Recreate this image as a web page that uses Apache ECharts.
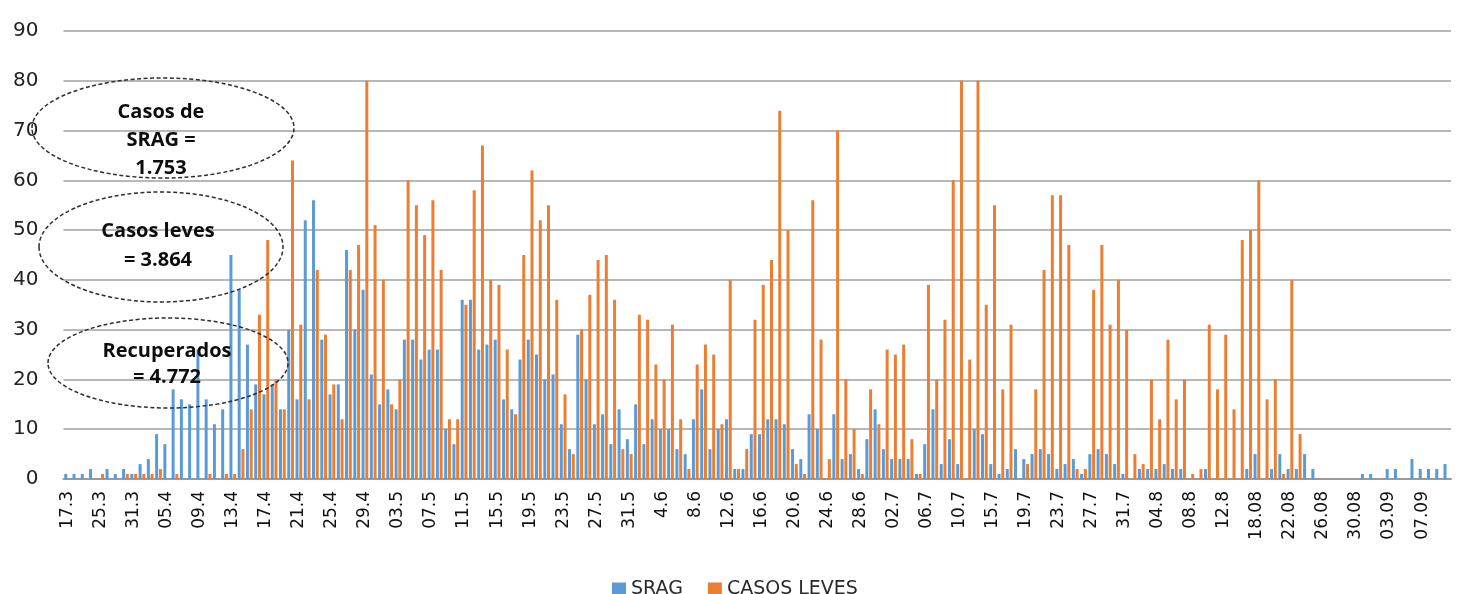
<!DOCTYPE html>
<html>
<head>
<meta charset="utf-8">
<title>SRAG x Casos leves</title>
<script src="https://cdn.jsdelivr.net/npm/echarts@6.0.0/dist/echarts.min.js"></script>
<style>
  html, body { margin: 0; padding: 0; background: #fff; }
  #chart { width: 1470px; height: 594px; }
</style>
</head>
<body>
<div id="chart"></div>
<script>
// one label every 4 days (the dates in between are not printed)
const tickLabels = ['17.3', '25.3', '31.3', '05.4', '09.4', '13.4', '17.4', '21.4', '25.4', '29.4',
  '03.5', '07.5', '11.5', '15.5', '19.5', '23.5', '27.5', '31.5', '4.6', '8.6', '12.6', '16.6',
  '20.6', '24.6', '28.6', '02.7', '06.7', '10.7', '15.7', '19.7', '23.7', '27.7', '31.7', '04.8',
  '08.8', '12.8', '18.08', '22.08', '26.08', '30.08', '03.09', '07.09']

const srag = [
  1, 1, 1, 2, 0, 2, 1, 2, 1, 3, 4, 9, 7, 18, 16, 15, 26, 16, 11, 14, 45, 38, 27, 19,
  17, 19, 14, 30, 16, 52, 56, 28, 17, 19, 46, 30, 38, 21, 15, 18, 14, 28, 28, 24, 26, 26, 10, 7,
  36, 36, 26, 27, 28, 16, 14, 24, 28, 25, 20, 21, 11, 6, 29, 20, 11, 13, 7, 14, 8, 15, 7, 12,
  10, 10, 6, 5, 12, 18, 6, 10, 12, 2, 2, 9, 9, 12, 12, 11, 6, 4, 13, 10, 0, 13, 4, 5,
  2, 8, 14, 6, 4, 4, 4, 1, 7, 14, 3, 8, 3, 0, 10, 9, 3, 1, 2, 6, 4, 5, 6, 5,
  2, 3, 4, 1, 5, 6, 5, 3, 1, 0, 2, 2, 2, 3, 2, 2, 0, 0, 2, 0, 0, 0, 0, 2,
  5, 0, 2, 5, 2, 2, 5, 2, 0, 0, 0, 0, 0, 1, 1, 0, 2, 2, 0, 4, 2, 2, 2, 3
]

const casosLeves = [
  0, 0, 0, 0, 1, 0, 0, 1, 1, 1, 1, 2, 0, 1, 0, 0, 0, 1, 0, 1, 1, 6, 14, 33,
  48, 20, 14, 64, 31, 16, 42, 29, 19, 12, 42, 47, 80, 51, 40, 15, 20, 60, 55, 49, 56, 42, 12, 12,
  35, 58, 67, 40, 39, 26, 13, 45, 62, 52, 55, 36, 17, 5, 30, 37, 44, 45, 36, 6, 5, 33, 32, 23,
  20, 31, 12, 2, 23, 27, 25, 11, 40, 2, 6, 32, 39, 44, 74, 50, 3, 1, 56, 28, 4, 70, 20, 10,
  1, 18, 11, 26, 25, 27, 8, 1, 39, 20, 32, 60, 80, 24, 80, 35, 55, 18, 31, 0, 3, 18, 42, 57,
  57, 47, 2, 2, 38, 47, 31, 40, 30, 5, 3, 20, 12, 28, 16, 20, 1, 2, 31, 18, 29, 14, 48, 50,
  60, 16, 20, 1, 40, 9, 0, 0, 0, 0, 0, 0, 0, 0, 0, 0, 0, 0, 0, 0, 0, 0, 0, 0
]

// totals written in the dashed ellipses
const notes = [
  { text: 'Casos de\nSRAG =\n1.753', cx: 163, cy: 128, rx: 131, ry: 50, ty: 140, tx: 161, lh: 28 },
  { text: 'Casos leves\n= 3.864', cx: 161, cy: 247, rx: 122, ry: 55, ty: 246, tx: 158, lh: 29 },
  { text: 'Recuperados\n= 4.772', cx: 168, cy: 363, rx: 120, ry: 45, ty: 364, tx: 167, lh: 26 }
]

const categories = tickLabels.flatMap(l => [l, '', '', ''])

const chart = echarts.init(document.getElementById('chart'), null, { renderer: 'canvas' })

const graphics = []
notes.forEach(n => {
  graphics.push({
    type: 'ellipse',
    z: 100,
    shape: { cx: n.cx, cy: n.cy, rx: n.rx, ry: n.ry },
    style: { fill: null, stroke: '#2e2e2e', lineWidth: 1.5, lineDash: [4, 2.5] }
  })
  graphics.push({
    type: 'text',
    z: 101,
    style: {
      text: n.text,
      x: n.tx,
      y: n.ty,
      font: 'bold 20px "Open Sans"',
      fill: '#0d0d0d',
      textAlign: 'center',
      textVerticalAlign: 'middle',
      lineHeight: n.lh
    }
  })
})

chart.setOption({
  animation: false,
  backgroundColor: '#fff',
  grid: {
    left: 63.5,
    right: 19,
    top: 31,
    bottom: 115,
    containLabel: false,
    outerBoundsMode: 'none'
  },
  legend: {
    data: ['SRAG', 'CASOS LEVES'],
    left: 607,
    top: 575,
    itemWidth: 14,
    itemHeight: 14,
    itemGap: 25,
    icon: 'rect',
    textStyle: { fontFamily: 'DejaVu Sans', fontSize: 19, color: '#2a2a2a' }
  },
  xAxis: {
    type: 'category',
    data: categories,
    axisLine: { show: true, lineStyle: { color: '#9a9a9a', width: 2 } },
    axisTick: { show: false },
    axisLabel: {
      interval: 3,
      rotate: 90,
      margin: 12,
      fontFamily: 'DejaVu Sans',
      fontSize: 17,
      color: '#111'
    }
  },
  yAxis: {
    type: 'value',
    min: 0,
    max: 90,
    interval: 10,
    axisLine: { show: false },
    axisTick: { show: false },
    splitLine: { show: true, lineStyle: { color: '#a0a0a0', width: 1.5 } },
    axisLabel: {
      margin: 25,
      fontFamily: 'DejaVu Sans',
      fontSize: 20,
      color: '#222'
    }
  },
  series: [
    {
      name: 'SRAG',
      type: 'bar',
      data: srag,
      barWidth: 3,
      barGap: '25%',
      itemStyle: { color: '#5B9BD5' }
    },
    {
      name: 'CASOS LEVES',
      type: 'bar',
      data: casosLeves,
      barWidth: 3,
      barGap: '25%',
      itemStyle: { color: '#ED7D31' }
    }
  ],
  graphic: graphics
})
</script>
</body>
</html>
